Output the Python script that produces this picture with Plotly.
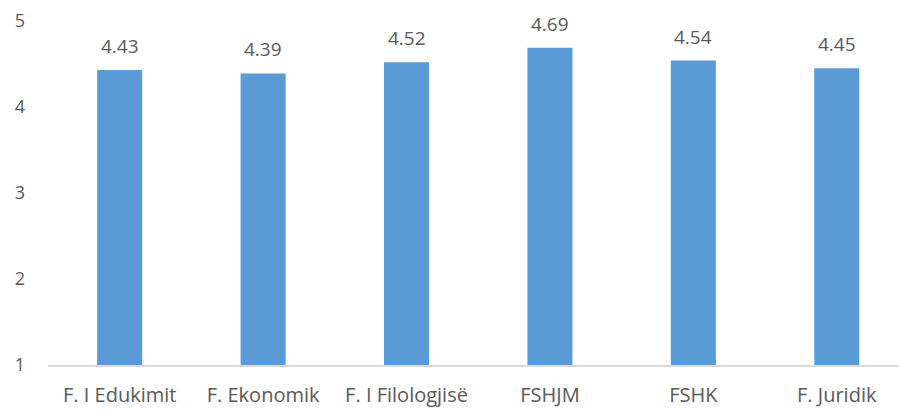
import plotly.graph_objects as go

categories = ["F. I Edukimit", "F. Ekonomik", "F. I Filologjisë", "FSHJM", "FSHK", "F. Juridik"]
values = [4.43, 4.39, 4.52, 4.69, 4.54, 4.45]
value_labels = ["4.43", "4.39", "4.52", "4.69", "4.54", "4.45"]
y_ticks = [1, 2, 3, 4, 5]

FONT = "Open Sans"
TXT = "#595959"

fig = go.Figure()
fig.add_trace(go.Bar(
    x=categories, y=[v - 1 for v in values], base=1,
    marker=dict(color="#5B9BD5", line=dict(width=0)),
    hoverinfo="skip",
))
for c, v, t in zip(categories, values, value_labels):
    fig.add_annotation(x=c, y=v, text=t, showarrow=False, yanchor="bottom", yshift=9,
                       font=dict(family=FONT, size=19, color=TXT))

fig.update_layout(
    width=899, height=409,
    margin=dict(l=48, r=0, t=21, b=44),
    paper_bgcolor="white", plot_bgcolor="white",
    showlegend=False, bargap=0.686,
    font=dict(family=FONT, size=18, color=TXT),
)
fig.update_xaxes(range=[-0.5, 5.434], showgrid=False, showline=True, linecolor="#D9D9D9", linewidth=2,
                 ticks="", tickfont=dict(family=FONT, size=20, color=TXT), ticklabelstandoff=11)
fig.update_yaxes(range=[1, 5], tickvals=y_ticks, showgrid=False, zeroline=False, showline=False,
                 ticks="", tickfont=dict(family=FONT, size=18, color=TXT), ticklabelstandoff=22)

fig.write_html("out.html", config={"displayModeBar": False},
               post_script="document.body.style.margin='0';")
